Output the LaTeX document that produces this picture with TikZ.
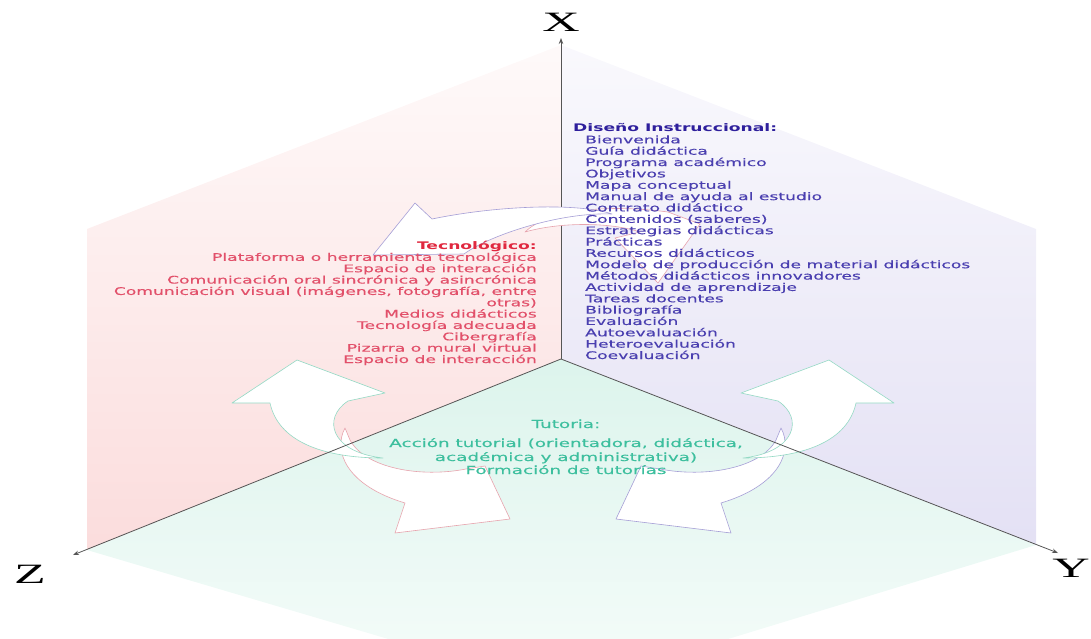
\documentclass[tikz,border=0pt]{standalone}
\usepackage{fontspec}
\usetikzlibrary{arrows.meta}
\newfontfamily\vfont[FakeStretch=1.64, UprightFeatures={FakeBold=0.35}]{DejaVu Sans}
\newfontfamily\axfont[FakeStretch=1.85]{Liberation Serif}
\definecolor{pinkc}{HTML}{FBDCDC}
\definecolor{lavc}{HTML}{E3E0F4}
\definecolor{mintc}{HTML}{DCF4EC}
\definecolor{dheadc}{HTML}{2E1F9C}
\definecolor{ditemc}{HTML}{4A3FB0}
\definecolor{theadc}{HTML}{E0283F}
\definecolor{titemc}{HTML}{E2506A}
\definecolor{tutoc}{HTML}{3DBF9E}
\definecolor{pinkline}{HTML}{E7A3AD}
\definecolor{lavline}{HTML}{A59ED6}
\definecolor{greenline}{HTML}{94D9C4}
\definecolor{axisc}{HTML}{555555}
\begin{document}
\begin{tikzpicture}[x=1pt,y=-1pt,
  dhd/.style={font=\vfont\bfseries\fontsize{10.45}{11}\selectfont, text=dheadc, inner sep=0pt, anchor=base west},
  dit/.style={font=\vfont\fontsize{10.45}{11}\selectfont, text=ditemc, inner sep=0pt, anchor=base west},
  thd/.style={font=\vfont\bfseries\fontsize{10.45}{11}\selectfont, text=theadc, inner sep=0pt, anchor=base east},
  tit/.style={font=\vfont\fontsize{10.45}{11}\selectfont, text=titemc, inner sep=0pt, anchor=base east},
  tut/.style={font=\vfont\fontsize{11.2}{12}\selectfont, text=tutoc, inner sep=0pt, anchor=base},
  axlab/.style={font=\axfont\fontsize{28}{30}\selectfont, inner sep=0pt, anchor=base},
  axisline/.style={draw=axisc, line width=0.8pt, -{Stealth[length=6pt,width=4.5pt]}},
  pinkarrow/.style={draw=pinkline, fill=white, line width=0.6pt, line join=round},
  lavarrow/.style={draw=lavline, fill=white, line width=0.6pt, line join=round},
  greenarrow/.style={draw=greenline, fill=white, line width=0.6pt, line join=round}]
\useasboundingbox (0,0) rectangle (1091,639);
% corners
\coordinate (O) at (561,359);
\coordinate (Xt) at (561,38);
\coordinate (Zt) at (73,555);
\coordinate (Yt) at (1058,553);
\coordinate (T) at (561,45);
\coordinate (UL) at (87,229);
\coordinate (LL) at (87,550);
\coordinate (B) at (561,690);
\coordinate (LR) at (1036,545);
\coordinate (UR) at (1036,229);
% faces
\begin{scope}
  \clip (O) -- (T) -- (UL) -- (LL) -- cycle;
  \shade[top color=pinkc!15, middle color=pinkc!75, bottom color=pinkc] (80,40) rectangle (565,560);
\end{scope}
\begin{scope}
  \clip (O) -- (T) -- (UR) -- (LR) -- cycle;
  \shade[top color=lavc!20, middle color=lavc!80, bottom color=lavc] (555,40) rectangle (1045,560);
\end{scope}
\begin{scope}
  \clip (O) -- (LL) -- (B) -- (LR) -- cycle;
  \shade[top color=mintc, bottom color=mintc!25] (80,355) rectangle (1045,695);
\end{scope}
% X axis
\draw[axisline] (O) -- (Xt);
% top arrows
\draw[pinkarrow] (525,232) .. controls (545,212) and (600,203) .. (668,212) -- (700,224) -- (658,283) -- (615,238) -- (640,232) .. controls (610,222) and (560,222) .. (525,232) -- cycle;
\draw[lavarrow] (612,214) .. controls (580,203) and (500,205) .. (432,219) -- (415,203) -- (373,255) -- (464,254) .. controls (490,235) and (560,212) .. (612,214) -- cycle;
% lower left arrows
\draw[pinkarrow] (345,428) .. controls (333,450) and (345,485) .. (405,503) -- (395,533) -- (510,519) -- (485,466) -- (466,469) .. controls (420,478) and (365,468) .. (350,440) -- cycle;
\draw[greenarrow] (383,458) .. controls (320,458) and (278,440) .. (270,403) -- (232,403) -- (297,360) -- (385,393) -- (348,401) .. controls (322,418) and (330,452) .. (383,458) -- cycle;
% lower right arrows
\draw[lavarrow] (781,428) .. controls (793,450) and (781,485) .. (721,503) -- (731,533) -- (616,519) -- (641,466) -- (660,469) .. controls (706,478) and (761,468) .. (776,440) -- cycle;
\draw[greenarrow] (743,458) .. controls (806,458) and (848,440) .. (856,403) -- (894,403) -- (829,360) -- (741,393) -- (778,401) .. controls (804,418) and (796,452) .. (743,458) -- cycle;
% Z and Y axes
\draw[axisline] (O) -- (Zt);
\draw[axisline] (O) -- (Yt);
% axis labels
\node[axlab] (lx) at (561,32) {X};
\node[axlab] (lz) at (30,583) {Z};
\node[axlab] (ly) at (1071,577) {Y};
% Diseño instruccional
\node[dhd] (dh) at (573,132) {Diseño Instruccional:};
\foreach \t [count=\i] in {Bienvenida, Guía didáctica, Programa académico, Objetivos, Mapa conceptual, Manual de ayuda al estudio, Contrato didáctico, Contenidos (saberes), Estrategias didácticas, Prácticas, Recursos didácticos, Modelo de producción de material didácticos, Métodos didácticos innovadores, Actividad de aprendizaje, Tareas docentes, Bibliografía, Evaluación, Autoevaluación, Heteroevaluación, Coevaluación}
  \node[dit] (d\i) at (585,{132+\i*11.35}) {\t};
% Tecnológico
\node[thd] (th) at (537,249.5) {Tecnológico:};
\foreach \t [count=\i] in {Plataforma o herramienta tecnológica, Espacio de interacción, Comunicación oral sincrónica y asincrónica, {Comunicación visual (imágenes, fotografía, entre}, otras), Medios didácticos, Tecnología adecuada, Cibergrafía, Pizarra o mural virtual, Espacio de interacción}
  \node[tit] (t\i) at (537,{249.5+\i*11.35}) {\t};
% Tutoria
\node[tut] (u0) at (566,428) {Tutoria:};
\node[tut] (u1) at (566,447) {Acción tutorial (orientadora, didáctica,};
\node[tut] (u2) at (566,461) {académica y administrativa)};
\node[tut] (u3) at (566,474) {Formación de tutorías};
\end{tikzpicture}
\end{document}
